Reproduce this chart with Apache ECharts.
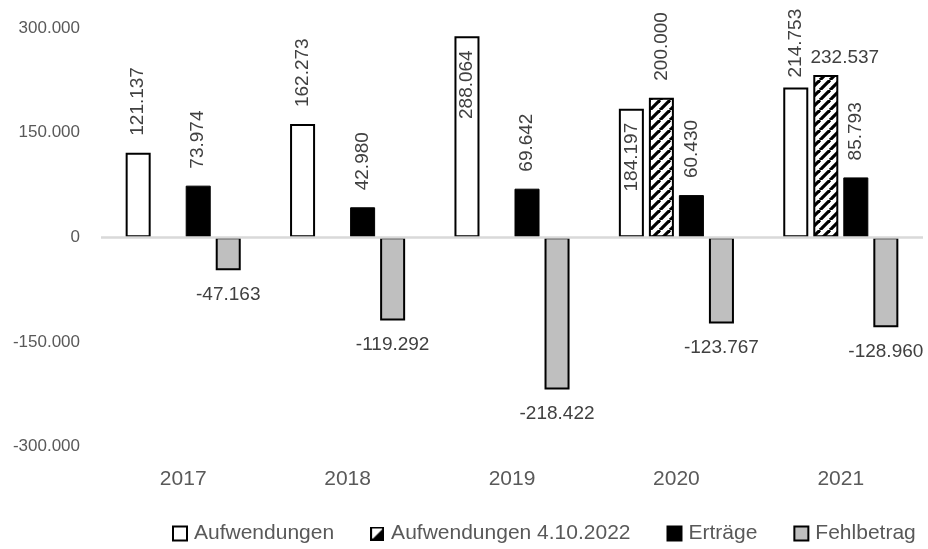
<!DOCTYPE html>
<html>
<head>
<meta charset="utf-8">
<script src="https://cdn.jsdelivr.net/npm/echarts@6/dist/echarts.min.js"></script>
<style>
  html, body { margin: 0; padding: 0; background: #fff; }
  #chart { width: 928px; height: 549px; }
</style>
</head>
<body>
<div id="chart"></div>
<script>
// Jahre
const years = ['2017', '2018', '2019', '2020', '2021'];

// Werte in Euro
const aufwendungen = [121137, 162273, 288064, 184197, 214753];
const aufwendungen2022 = [null, null, null, 200000, 232537];
const ertraege = [73974, 42980, 69642, 60430, 85793];
const fehlbetrag = [-47163, -119292, -218422, -123767, -128960];

// Achsenbereich
const yMin = -300000;
const yMax = 300000;
const yStep = 150000;

const FONT = "'Liberation Sans', Arial, sans-serif";

// Tausenderpunkt (deutsches Format)
function fmt(v) {
  const n = Math.round(Math.abs(v)).toString().replace(/\B(?=(\d{3})+(?!\d))/g, '.');
  return (v < 0 ? '-' : '') + n;
}

// Schraffur für die Balken "Aufwendungen 4.10.2022"
function hatchPattern() {
  const size = 10;
  const c = document.createElement('canvas');
  c.width = size; c.height = size;
  const g = c.getContext('2d');
  g.fillStyle = '#fff';
  g.fillRect(0, 0, size, size);
  g.strokeStyle = '#000';
  g.lineWidth = 3.2;
  for (const o of [-size, 0, size]) {
    g.beginPath();
    g.moveTo(o, size);
    g.lineTo(o + size, 0);
    g.stroke();
  }
  return { image: c, repeat: 'repeat' };
}

// Legendensymbol der Schraffur: diagonal geteiltes Quadrat
function hatchLegendIcon() {
  const s = 14;
  const c = document.createElement('canvas');
  c.width = s; c.height = s;
  const g = c.getContext('2d');
  g.fillStyle = '#fff';
  g.fillRect(0, 0, s, s);
  g.fillStyle = '#000';
  g.beginPath();
  g.moveTo(s, 1);
  g.lineTo(s, s);
  g.lineTo(1, s);
  g.closePath();
  g.fill();
  g.strokeStyle = '#000';
  g.lineWidth = 2;
  g.strokeRect(1, 1, s - 2, s - 2);
  return 'image://' + c.toDataURL();
}

const upLabel = {
  show: true, position: 'top', rotate: 90, align: 'left', verticalAlign: 'middle',
  distance: 17, color: '#404040', fontFamily: FONT, fontSize: 19, formatter: p => fmt(p.value)
};
const insideLabel = {
  position: 'insideTop', rotate: 90, align: 'right', verticalAlign: 'middle', distance: 14
};

const aufData = aufwendungen.map((v, i) => {
  if (i === 2 || i === 3) return { value: v, label: insideLabel };
  if (i === 4) return { value: v, label: { distance: 10 } };
  return v;
});
const auf22Data = aufwendungen2022.map((v, i) => {
  if (i === 4) return { value: v, label: { rotate: 0, align: 'center', verticalAlign: 'bottom', distance: 8, offset: [19, 0] } };
  return v;
});

const chart = echarts.init(document.getElementById('chart'), null, { renderer: 'canvas' });
chart.setOption({
  backgroundColor: '#fff',
  animation: false,
  textStyle: { fontFamily: FONT },
  grid: { left: 101, right: 5, top: 28, bottom: 102.5, outerBoundsMode: 'none' },
  legend: {
    left: 172, top: 523, padding: 0,
    itemWidth: 14, itemHeight: 14, itemGap: 36,
    icon: 'rect',
    textStyle: { fontFamily: FONT, fontSize: 21, color: '#595959', padding: [0, 0, 0, 2] },
    data: [
      'Aufwendungen',
      { name: 'Aufwendungen 4.10.2022', icon: hatchLegendIcon() },
      'Erträge',
      'Fehlbetrag'
    ]
  },
  xAxis: {
    type: 'category',
    data: years,
    axisLine: { show: false },
    axisTick: { show: false },
    axisLabel: { fontFamily: FONT, fontSize: 21, color: '#595959', margin: 22 }
  },
  yAxis: {
    type: 'value',
    min: yMin, max: yMax, interval: yStep,
    axisLine: { show: false },
    axisTick: { show: false },
    splitLine: { show: false },
    axisLabel: { fontFamily: FONT, fontSize: 17, color: '#595959', margin: 21, formatter: v => fmt(v) }
  },
  series: [
    {
      name: 'Aufwendungen', type: 'bar',
      barGap: '20%', barCategoryGap: '30%',
      itemStyle: { color: '#fff', borderColor: '#000', borderWidth: 2 },
      label: upLabel,
      data: aufData,
      markLine: {
        silent: true, symbol: 'none',
        label: { show: false },
        lineStyle: { color: '#d9d9d9', width: 2.5, type: 'solid' },
        data: [{ yAxis: 0 }]
      }
    },
    {
      name: 'Aufwendungen 4.10.2022', type: 'bar',
      itemStyle: { color: hatchPattern(), borderColor: '#000', borderWidth: 2 },
      label: upLabel,
      data: auf22Data
    },
    {
      name: 'Erträge', type: 'bar',
      itemStyle: { color: '#000', borderColor: '#000', borderWidth: 1 },
      label: upLabel,
      data: ertraege
    },
    {
      name: 'Fehlbetrag', type: 'bar',
      itemStyle: { color: '#bfbfbf', borderColor: '#000', borderWidth: 2 },
      label: {
        show: true, position: 'bottom', distance: 15, color: '#404040',
        fontFamily: FONT, fontSize: 19, formatter: p => fmt(p.value)
      },
      data: fehlbetrag
    }
  ]
});
</script>
</body>
</html>
